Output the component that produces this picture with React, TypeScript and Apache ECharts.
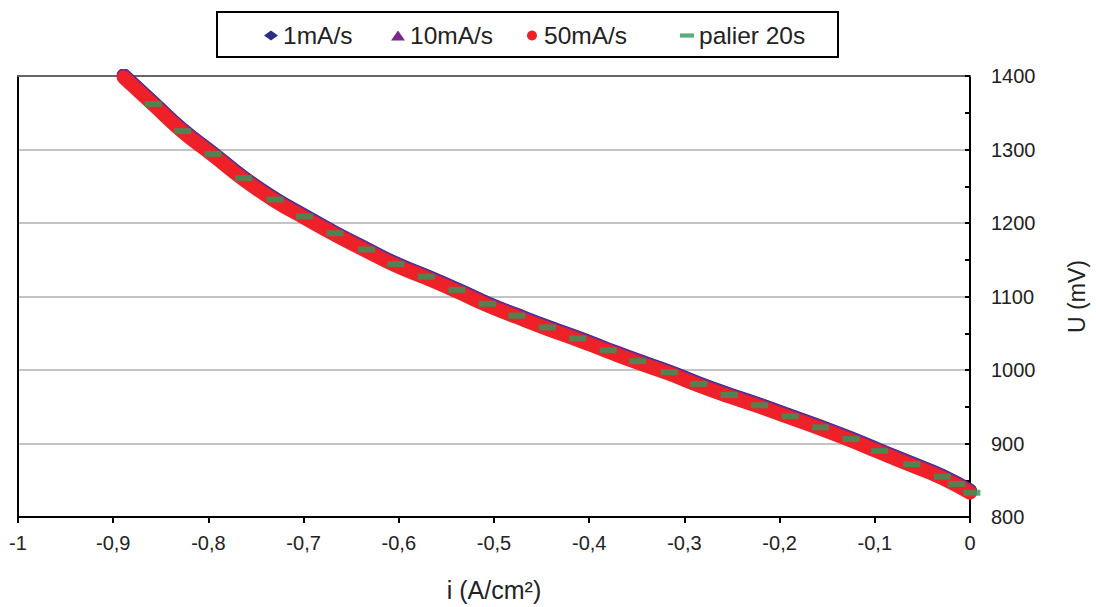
import React, { useEffect, useRef } from "react";
import * as echarts from "echarts";

// current density (A/cm²) for the scan curves
const scanX = [-0.889, -0.858, -0.827, -0.795, -0.763, -0.730, -0.699, -0.667, -0.634, -0.603, -0.571, -0.539, -0.507, -0.476, -0.444, -0.412, -0.380, -0.349, -0.316, -0.285, -0.253, -0.221, -0.189, -0.157, -0.125, -0.095, -0.061, -0.029, 0.0];
// voltage (mV) for each scan rate
const u1mAs = [1401, 1364, 1327, 1295, 1262, 1233, 1210, 1187, 1165, 1145, 1128, 1110, 1091, 1075, 1059, 1044, 1028, 1013, 998, 982, 967, 953, 938, 923, 907, 891, 873, 856, 836];
const u10mAs = [1400, 1363, 1326, 1294, 1261, 1232, 1209, 1186, 1164, 1144, 1127, 1109, 1090, 1074, 1058, 1043, 1027, 1012, 997, 981, 966, 952, 937, 922, 906, 890, 872, 855, 835];
const u50mAs = [1398, 1361, 1324, 1292, 1259, 1230, 1207, 1184, 1162, 1142, 1125, 1107, 1088, 1072, 1056, 1041, 1025, 1010, 995, 979, 964, 950, 935, 920, 904, 888, 870, 853, 833];
// steady-state points (palier 20s)
const palierX = [-0.858, -0.827, -0.795, -0.763, -0.730, -0.699, -0.667, -0.634, -0.603, -0.571, -0.539, -0.507, -0.476, -0.444, -0.412, -0.380, -0.349, -0.316, -0.285, -0.253, -0.221, -0.189, -0.157, -0.125, -0.095, -0.061, -0.029, -0.014, 0.002];
const palierU = [1362, 1325, 1294, 1261, 1232, 1209, 1186, 1164, 1144, 1127, 1109, 1090, 1074, 1058, 1043, 1027, 1012, 997, 981, 966, 952, 937, 922, 906, 890, 872, 855, 845, 833];

const xTickLabels = ["-1", "-0,9", "-0,8", "-0,7", "-0,6", "-0,5", "-0,4", "-0,3", "-0,2", "-0,1", "0"];
const yTickLabels = ["800", "900", "1000", "1100", "1200", "1300", "1400"];
const seriesNames = ["1mA/s", "10mA/s", "50mA/s", "palier 20s"];
const legendIcons = ["diamond", "triangle", "circle", "path://M0,0H15V4.5H0Z"];
const colors = ["#2b2d84", "#7a2a8c", "#ee2129", "#2c9a5c"];

const FONT = "'Liberation Sans', Arial, sans-serif";

export default function App() {
  const ref = useRef<HTMLDivElement>(null);
  useEffect(() => {
    if (!ref.current) return;
    const chart = echarts.init(ref.current, null, { renderer: "svg" });
    const pair = (xs: number[], ys: number[]) => xs.map((x, i) => [x, ys[i]]);
    const legendLefts = [264, 391, 527, 680];
    chart.setOption({
      animation: false,
      textStyle: { fontFamily: FONT },
      grid: { left: 18, right: 125, top: 76, bottom: 85, containLabel: false },
      graphic: [
        {
          type: "rect",
          shape: { x: 217, y: 12, width: 621, height: 45 },
          style: { fill: "none", stroke: "#000", lineWidth: 2 },
          silent: true,
        },
      ],
      legend: seriesNames.map((name, i) => ({
        left: legendLefts[i],
        top: 23,
        padding: 0,
        itemWidth: 14,
        itemHeight: 10,
        itemGap: 0,
        textStyle: { fontSize: 24.5, color: "#222", fontFamily: FONT },
        data: [{ name, icon: legendIcons[i] }],
      })),
      xAxis: [
        {
          type: "value",
          min: -1,
          max: 0,
          interval: 0.1,
          name: "i (A/cm²)",
          nameLocation: "middle",
          nameGap: 60,
          nameTextStyle: { fontSize: 25, color: "#222" },
          axisLine: { onZero: false, lineStyle: { color: "#000", width: 2 } },
          axisTick: { show: true, inside: false, length: 6, lineStyle: { color: "#000", width: 2 } },
          axisLabel: {
            fontSize: 20,
            color: "#222",
            margin: 16,
            formatter: (v: number) => xTickLabels[Math.round((v + 1) * 10)] ?? "",
          },
          splitLine: { show: false },
        },
        {
          type: "value",
          position: "top",
          min: -1,
          max: 0,
          axisLine: { show: true, onZero: false, lineStyle: { color: "#666", width: 2 } },
          axisTick: { show: false },
          axisLabel: { show: false },
          splitLine: { show: false },
        },
      ],
      yAxis: [
        {
          type: "value",
          position: "right",
          min: 800,
          max: 1400,
          interval: 100,
          name: "U (mV)",
          nameLocation: "middle",
          nameRotate: 90,
          nameGap: 95,
          nameTextStyle: { fontSize: 23, color: "#222" },
          axisLine: { show: true, onZero: false, lineStyle: { color: "#000", width: 2 } },
          axisTick: { show: true, inside: true, length: 5, lineStyle: { color: "#000", width: 2 } },
          minorTick: { show: true, splitNumber: 2, length: 5, lineStyle: { color: "#000", width: 2 } },
          axisLabel: {
            fontSize: 20,
            color: "#222",
            margin: 21,
            formatter: (v: number) => yTickLabels[Math.round((v - 800) / 100)] ?? "",
          },
          splitLine: { show: true, lineStyle: { color: "#c4c4c4", width: 2 } },
        },
        {
          type: "value",
          position: "left",
          min: 800,
          max: 1400,
          axisLine: { show: true, onZero: false, lineStyle: { color: "#000", width: 2 } },
          axisTick: { show: false },
          axisLabel: { show: false },
          splitLine: { show: false },
        },
      ],
      series: [
        {
          name: seriesNames[0],
          type: "line",
          data: pair(scanX, u1mAs),
          smooth: true,
          showSymbol: false,
          itemStyle: { color: colors[0] },
          lineStyle: { color: colors[0], width: 14, cap: "round" },
          z: 2,
        },
        {
          name: seriesNames[1],
          type: "line",
          data: pair(scanX, u10mAs),
          smooth: true,
          showSymbol: false,
          itemStyle: { color: colors[1] },
          lineStyle: { color: colors[1], width: 14, cap: "round" },
          z: 3,
        },
        {
          name: seriesNames[2],
          type: "line",
          data: pair(scanX, u50mAs),
          smooth: true,
          showSymbol: false,
          itemStyle: { color: colors[2] },
          lineStyle: { color: colors[2], width: 14, cap: "round" },
          z: 4,
        },
        {
          name: seriesNames[3],
          type: "scatter",
          data: pair(palierX, palierU),
          symbol: "rect",
          symbolSize: [17, 6],
          clip: false,
          itemStyle: { color: colors[3] },
          z: 5,
        },
      ],
    });
    return () => chart.dispose();
  }, []);
  return (
    <div style={{ position: "absolute", left: 0, top: 0, width: 1096, height: 607, overflow: "hidden" }}>
      <div ref={ref} style={{ width: 1096, height: 607 }} />
    </div>
  );
}
